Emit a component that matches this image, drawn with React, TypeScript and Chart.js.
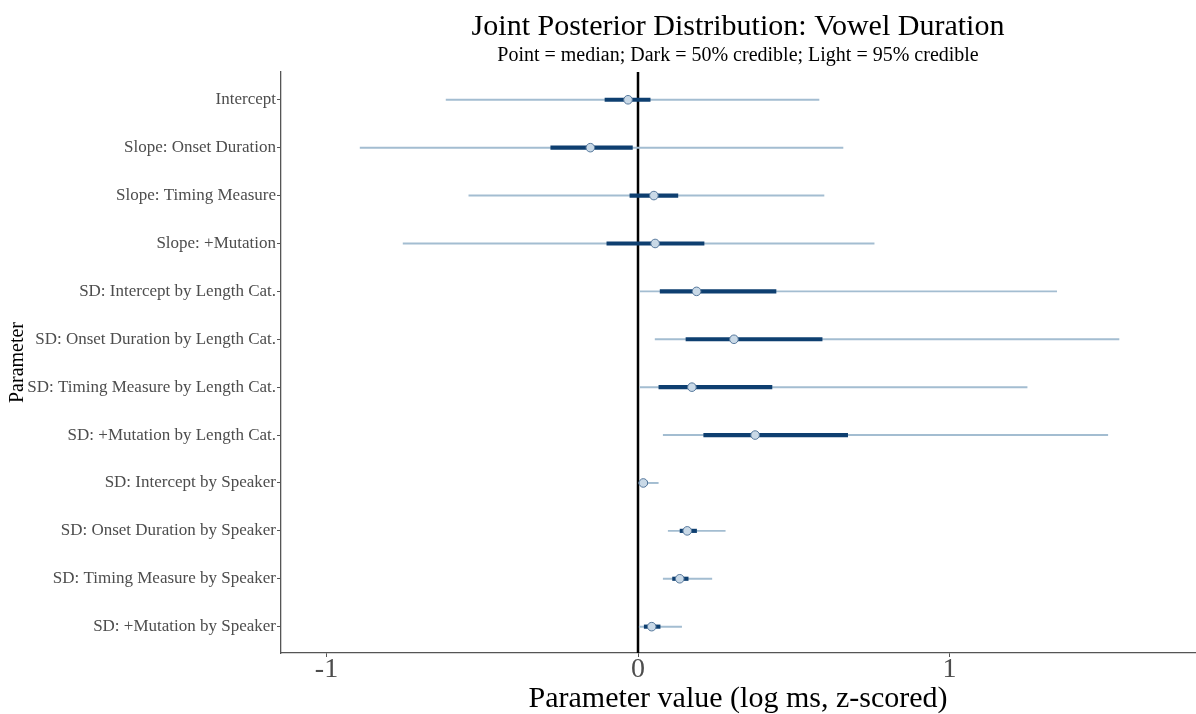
import React, { useEffect, useRef } from "react";
import { Chart, registerables } from "chart.js";

Chart.register(...registerables);

const parameters = [
  "Intercept",
  "Slope: Onset Duration",
  "Slope: Timing Measure",
  "Slope: +Mutation",
  "SD: Intercept by Length Cat.",
  "SD: Onset Duration by Length Cat.",
  "SD: Timing Measure by Length Cat.",
  "SD: +Mutation by Length Cat.",
  "SD: Intercept by Speaker",
  "SD: Onset Duration by Speaker",
  "SD: Timing Measure by Speaker",
  "SD: +Mutation by Speaker",
];

const medians = [-0.032, -0.153, 0.051, 0.055, 0.188, 0.308, 0.173, 0.376, 0.017, 0.158, 0.134, 0.044];
const lo50 = [-0.106, -0.28, -0.026, -0.1, 0.071, 0.154, 0.067, 0.211, 0.006, 0.135, 0.111, 0.02];
const hi50 = [0.039, -0.018, 0.128, 0.212, 0.443, 0.591, 0.43, 0.673, 0.03, 0.188, 0.161, 0.071];
const lo95 = [-0.616, -0.892, -0.543, -0.754, 0.006, 0.055, 0.006, 0.081, 0.003, 0.097, 0.081, 0.004];
const hi95 = [0.581, 0.658, 0.597, 0.758, 1.344, 1.544, 1.249, 1.508, 0.065, 0.28, 0.237, 0.14];
const xTicks = [-1, 0, 1];

const SERIF = "'Liberation Serif', 'Times New Roman', serif";

export default function App() {
  const ref = useRef<HTMLCanvasElement | null>(null);

  useEffect(() => {
    document.body.style.margin = "0";
    const canvas = ref.current;
    if (!canvas) return;

    const titlePlugin = {
      id: "customTitle",
      afterDraw(chart: any) {
        const { ctx, chartArea } = chart;
        const cx = (chartArea.left + chartArea.right) / 2;
        ctx.save();
        ctx.fillStyle = "#000";
        ctx.textAlign = "center";
        ctx.textBaseline = "middle";
        ctx.font = `30px ${SERIF}`;
        ctx.fillText("Joint Posterior Distribution: Vowel Duration", cx, 27);
        ctx.font = `20px ${SERIF}`;
        ctx.fillText("Point = median; Dark = 50% credible; Light = 95% credible", cx, 56);
        ctx.restore();
      },
      beforeDatasetsDraw(chart: any) {
        const { ctx, chartArea, scales } = chart;
        const x0 = scales.x.getPixelForValue(0);
        ctx.save();
        ctx.strokeStyle = "#000";
        ctx.lineWidth = 2.5;
        ctx.beginPath();
        ctx.moveTo(x0, chartArea.top);
        ctx.lineTo(x0, chartArea.bottom);
        ctx.stroke();
        ctx.restore();
      },
    };

    const idx = parameters.map((_, i) => i);

    const chart = new Chart(canvas, {
      type: "bar",
      data: {
        datasets: [
          {
            type: "bar",
            label: "95%",
            data: idx.map((i) => ({ x: [lo95[i], hi95[i]], y: i })) as any,
            backgroundColor: "#a3bdd1",
            barThickness: 1.3,
            grouped: false,
            order: 3,
          } as any,
          {
            type: "bar",
            label: "50%",
            data: idx.map((i) => ({ x: [lo50[i], hi50[i]], y: i })) as any,
            backgroundColor: "#0e3f70",
            barThickness: 3.5,
            grouped: false,
            order: 2,
          } as any,
          {
            type: "scatter",
            label: "median",
            data: idx.map((i) => ({ x: medians[i], y: i })),
            backgroundColor: "#c9d9e7",
            borderColor: "#56789c",
            borderWidth: 1,
            pointRadius: 4.3,
            order: 1,
          } as any,
        ],
      },
      plugins: [titlePlugin],
      options: {
        indexAxis: "y",
        animation: false,
        responsive: false,
        maintainAspectRatio: false,
        layout: { autoPadding: false, padding: { top: 72, left: 0, right: 1, bottom: 0 } },
        plugins: {
          legend: { display: false },
          tooltip: { enabled: false },
          title: { display: false },
        },
        scales: {
          x: {
            type: "linear",
            min: -1.146,
            max: 1.788,
            afterBuildTicks: (scale: any) => {
              scale.ticks = xTicks.map((v) => ({ value: v }));
            },
            afterFit: (scale: any) => {
              scale.height = 61;
              scale.paddingLeft = 0;
              scale.paddingRight = 0;
            },
            border: { display: true, color: "#555", width: 1.3 },
            grid: {
              display: true,
              drawOnChartArea: false,
              drawTicks: true,
              tickLength: 4,
              color: "#555",
            },
            ticks: {
              color: "#4d4d4d",
              font: { family: SERIF, size: 28 },
              padding: -4,
              callback: (v: any) => String(v),
            },
            title: {
              display: true,
              text: "Parameter value (log ms, z-scored)",
              color: "#000",
              font: { family: SERIF, size: 30 },
              padding: { top: 0, bottom: -3 },
            },
          },
          y: {
            type: "linear",
            reverse: true,
            offset: false,
            min: -0.58,
            max: 11.55,
            afterBuildTicks: (scale: any) => {
              scale.ticks = idx.map((v) => ({ value: v }));
            },
            afterFit: (scale: any) => {
              scale.width = 281;
              scale.paddingTop = 0;
              scale.paddingBottom = 0;
            },
            border: { display: true, color: "#555", width: 1.3 },
            grid: {
              display: true,
              offset: false,
              drawOnChartArea: false,
              drawTicks: true,
              tickLength: 4,
              color: "#555",
            },
            ticks: {
              color: "#4d4d4d",
              font: { family: SERIF, size: 17 },
              padding: 1,
              autoSkip: false,
              callback: (v: any) => parameters[v as number] ?? "",
            },
            title: {
              display: true,
              text: "Parameter",
              color: "#000",
              font: { family: SERIF, size: 20 },
              padding: { top: 6, bottom: 0 },
            },
          },
        },
      } as any,
    });

    return () => chart.destroy();
  }, []);

  return (
    <div style={{ position: "fixed", left: 0, top: 0, width: 1196, height: 714 }}>
      <canvas ref={ref} width={1196} height={714} style={{ width: 1196, height: 714 }} />
    </div>
  );
}
